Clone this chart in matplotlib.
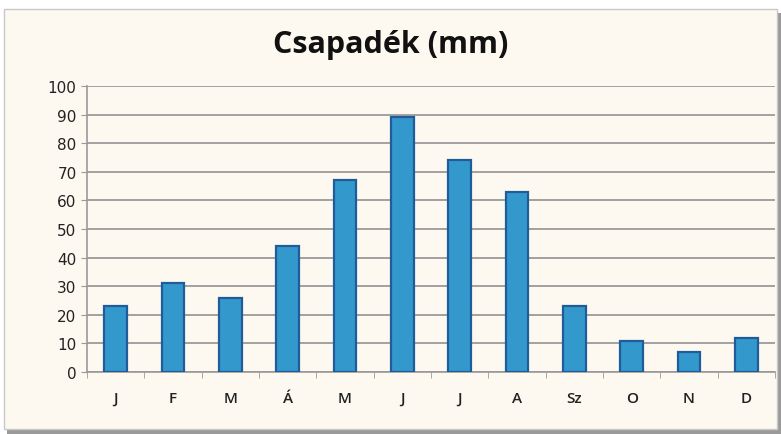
import numpy as np
import matplotlib.pyplot as plt
from matplotlib.patches import Rectangle

months = ['J', 'F', 'M', 'Á', 'M', 'J', 'J', 'A', 'Sz', 'O', 'N', 'D']
rain = [23, 31, 26, 44, 67, 89, 74, 63, 23, 11, 7, 12]

W, H = 781, 435
fig = plt.figure(figsize=(W / 100, H / 100), dpi=100)
fig.patch.set_facecolor('white')

# chart frame with a little shadow
fig.patches.append(Rectangle((7 / W, 0), (W - 7) / W, (H - 14) / H, transform=fig.transFigure,
                             facecolor='#9a9a9a', edgecolor='none', zorder=-2))
fig.patches.append(Rectangle((4 / W, 5 / H), (W - 8) / W, (H - 15) / H, transform=fig.transFigure,
                             facecolor='#fdf9f0', edgecolor='#c8c8c8', lw=1, zorder=-1))

ax = fig.add_axes([87 / W, 1 - 373 / H, (775 - 87) / W, (373 - 87) / H])
ax.set_facecolor('none')
x = np.arange(len(months))
ax.bar(x, rain, width=0.4, color='#3399cc', edgecolor='#1f5c99', linewidth=1.6, zorder=3)

ax.set_xlim(-0.5, len(months) - 0.5)
ax.set_ylim(0, 100)
ax.set_yticks(range(0, 101, 10))
ax.yaxis.grid(True, color='#8a8a8a', linewidth=1.1)
ax.set_axisbelow(True)

ax.set_xticks(x)
ax.set_xticklabels(months, fontsize=11, color='#222222', fontweight='semibold', family='Open Sans')
ax.tick_params(axis='x', length=0, pad=14)
ax.set_xticks(np.arange(-0.5, len(months)), minor=True)
ax.tick_params(axis='x', which='minor', length=4, color='#999999')
ax.tick_params(axis='y', length=4, color='#999999', labelsize=11, labelcolor='#222222')

for s in ['top', 'right']:
    ax.spines[s].set_visible(False)
for s in ['left', 'bottom']:
    ax.spines[s].set_color('#999999')
    ax.spines[s].set_linewidth(1.2)

fig.text(0.5, 1 - 45 / H, 'Csapadék (mm)', ha='center', va='center',
         fontsize=22, fontweight='bold', family='Open Sans', color='#111111')

fig.savefig('out.png', dpi=100, facecolor=fig.get_facecolor())
